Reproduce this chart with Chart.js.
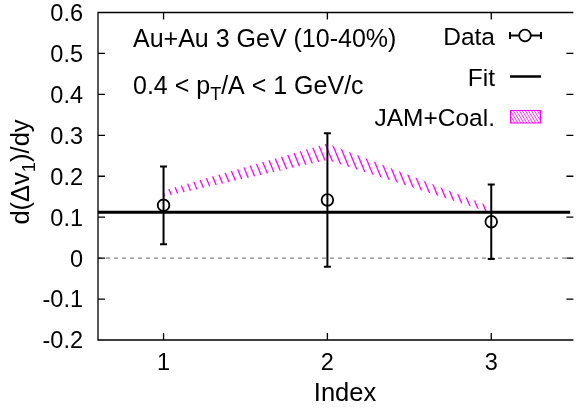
<!DOCTYPE html>
<html>
<head>
<meta charset="utf-8">
<script src="https://cdn.jsdelivr.net/npm/chart.js@4.4.1/dist/chart.umd.min.js"></script>
<style>
  html, body { margin: 0; padding: 0; background: #fff; overflow: hidden; }
  #wrap { width: 578px; height: 411px; }
</style>
</head>
<body>
<div id="wrap"><canvas id="flowChart" width="578" height="411"></canvas></div>
<script>
// data
const indexValues = [1, 2, 3];
const slopeValues = [0.129, 0.142, 0.089];
const slopeErrors = [0.095, 0.163, 0.091];
const fitValue = 0.112;
const jamLower = [0.150, 0.240, 0.110];
const jamUpper = [0.165, 0.280, 0.125];

// axes (right edge of the frame falls just outside the picture)
const xMin = 0.6, xMax = 3.483;
const yMin = -0.2, yMax = 0.6;
const xTicks = [1, 2, 3];
const xTickLabels = ['1', '2', '3'];
const yTicks = [-0.2, -0.1, 0, 0.1, 0.2, 0.3, 0.4, 0.5, 0.6];
const yTickLabels = ['-0.2', '-0.1', '0', '0.1', '0.2', '0.3', '0.4', '0.5', '0.6'];

const FONT = "'Liberation Sans', Arial, Helvetica, sans-serif";
const MAGENTA = '#ff00ff';

// hatch patterns for the JAM band
function makeHatch(w, h, lw) {
    const c = document.createElement('canvas');
    c.width = w; c.height = h;
    const g = c.getContext('2d');
    g.strokeStyle = MAGENTA;
    g.lineWidth = lw;
    for (const off of [-w, 0, w]) {
        g.beginPath();
        g.moveTo(off, 0);
        g.lineTo(off + w, h);
        g.stroke();
    }
    return g.createPattern(c, 'repeat');
}
const ctx = document.getElementById('flowChart').getContext('2d');
const bandHatch = makeHatch(7, 17, 1.3);
const keyHatch = makeHatch(3, 5, 0.8);

// draws text with subscript pieces, returns width
function drawRich(c, parts, x, y, size, measureOnly) {
    let cx = x;
    for (const p of parts) {
        const s = p.sub ? size * 0.72 : size;
        c.font = s + 'px ' + FONT;
        if (!measureOnly) c.fillText(p.text, cx, y + (p.sub ? size * 0.25 : 0));
        cx += c.measureText(p.text).width;
    }
    return cx - x;
}

const decorPlugin = {
    id: 'decor',
    afterDatasetsDraw(chart) {
        const { ctx: c, scales: { x, y } } = chart;
        c.save();
        c.strokeStyle = '#000';
        c.lineWidth = 2;
        c.beginPath();
        indexValues.forEach((v, i) => {
            const px = x.getPixelForValue(v);
            const top = y.getPixelForValue(slopeValues[i] + slopeErrors[i]);
            const bot = y.getPixelForValue(slopeValues[i] - slopeErrors[i]);
            c.moveTo(px, top); c.lineTo(px, bot);
            c.moveTo(px - 3.5, top); c.lineTo(px + 3.5, top);
            c.moveTo(px - 3.5, bot); c.lineTo(px + 3.5, bot);
        });
        c.stroke();
        c.restore();
    },
    afterDraw(chart) {
        const { ctx: c, chartArea: a, scales: { x, y } } = chart;
        c.save();
        // frame (right side is off the picture) and inward ticks
        c.strokeStyle = '#000';
        c.lineWidth = 1.3;
        c.beginPath();
        c.moveTo(a.right + 2, a.top); c.lineTo(a.left, a.top);
        c.lineTo(a.left, a.bottom); c.lineTo(a.right + 2, a.bottom);
        yTicks.forEach(v => {
            const py = y.getPixelForValue(v);
            c.moveTo(a.left, py); c.lineTo(a.left + 7, py);
            c.moveTo(a.right + 3, py); c.lineTo(a.right - 4, py);
        });
        xTicks.forEach(v => {
            const px = x.getPixelForValue(v);
            c.moveTo(px, a.bottom); c.lineTo(px, a.bottom - 7);
            c.moveTo(px, a.top); c.lineTo(px, a.top + 7);
        });
        c.stroke();

        // tick labels
        c.fillStyle = '#000';
        c.textBaseline = 'alphabetic';
        c.font = '23.5px ' + FONT;
        c.textAlign = 'right';
        yTicks.forEach((v, i) => c.fillText(yTickLabels[i], 83, y.getPixelForValue(v) + 8.4));
        c.textAlign = 'center';
        xTicks.forEach((v, i) => c.fillText(xTickLabels[i], x.getPixelForValue(v), 370));

        // axis titles
        c.font = '25.5px ' + FONT;
        c.fillText('Index', 345, 401);
        c.textAlign = 'left';
        const yTitle = [{ text: 'd(Δv' }, { text: '1', sub: true }, { text: ')/dy' }];
        c.translate(28.5, 172);
        c.rotate(-Math.PI / 2);
        const tw = drawRich(c, yTitle, 0, 0, 25.5, true);
        drawRich(c, yTitle, -tw / 2, 0, 25.5, false);
        c.setTransform(1, 0, 0, 1, 0, 0);

        // annotations
        c.font = '25px ' + FONT;
        c.fillText('Au+Au 3 GeV (10-40%)', 133, 47);
        drawRich(c, [{ text: '0.4 < p' }, { text: 'T', sub: true }, { text: '/A < 1 GeV/c' }], 133, 94, 25, false);

        // legend
        c.font = '24.5px ' + FONT;
        c.textAlign = 'right';
        c.fillText('Data', 495, 45);
        c.fillText('Fit', 495, 86);
        c.fillText('JAM+Coal.', 495, 126);

        c.lineWidth = 2;
        c.beginPath();
        c.moveTo(510, 35.5); c.lineTo(541, 35.5);
        c.moveTo(510, 32); c.lineTo(510, 39);
        c.moveTo(541, 32); c.lineTo(541, 39);
        c.stroke();
        c.beginPath();
        c.arc(525, 35.5, 5.8, 0, Math.PI * 2);
        c.fillStyle = '#fff';
        c.fill();
        c.lineWidth = 1.8;
        c.stroke();

        c.lineWidth = 2.5;
        c.beginPath();
        c.moveTo(510, 76.5); c.lineTo(541, 76.5);
        c.stroke();

        c.fillStyle = keyHatch;
        c.fillRect(510, 110, 31, 13);
        c.strokeStyle = MAGENTA;
        c.lineWidth = 1;
        c.strokeRect(510.5, 110.5, 30, 12.5);
        c.restore();
    }
};

new Chart(ctx, {
    type: 'line',
    data: {
        datasets: [
            {
                label: 'JAM lower',
                data: indexValues.map((v, i) => ({ x: v, y: jamLower[i] })),
                borderWidth: 0,
                borderColor: 'rgba(0,0,0,0)',
                pointRadius: 0,
                fill: false,
                order: 5
            },
            {
                label: 'JAM+Coal.',
                data: indexValues.map((v, i) => ({ x: v, y: jamUpper[i] })),
                borderWidth: 0,
                borderColor: 'rgba(0,0,0,0)',
                backgroundColor: bandHatch,
                pointRadius: 0,
                fill: '-1',
                order: 4
            },
            {
                label: 'zero',
                data: [{ x: xMin, y: 0 }, { x: xMax, y: 0 }],
                borderColor: '#a0a0a0',
                borderWidth: 1.6,
                borderDash: [4, 4],
                pointRadius: 0,
                fill: false,
                order: 6
            },
            {
                label: 'Fit',
                data: [{ x: xMin, y: fitValue }, { x: xMax, y: fitValue }],
                borderColor: '#000',
                borderWidth: 3,
                pointRadius: 0,
                fill: false,
                order: 3
            },
            {
                label: 'Data',
                data: indexValues.map((v, i) => ({ x: v, y: slopeValues[i] })),
                showLine: false,
                pointRadius: 5.8,
                pointBorderWidth: 1.8,
                pointBorderColor: '#000',
                pointBackgroundColor: 'rgba(0,0,0,0)',
                order: 1
            }
        ]
    },
    options: {
        responsive: false,
        animation: false,
        devicePixelRatio: 1,
        layout: { padding: { left: 98, top: 12.5, right: 0, bottom: 71 } },
        plugins: { legend: { display: false }, tooltip: { enabled: false } },
        scales: {
            x: { type: 'linear', min: xMin, max: xMax, display: false },
            y: { type: 'linear', min: yMin, max: yMax, display: false }
        }
    },
    plugins: [decorPlugin]
});
</script>
</body>
</html>
